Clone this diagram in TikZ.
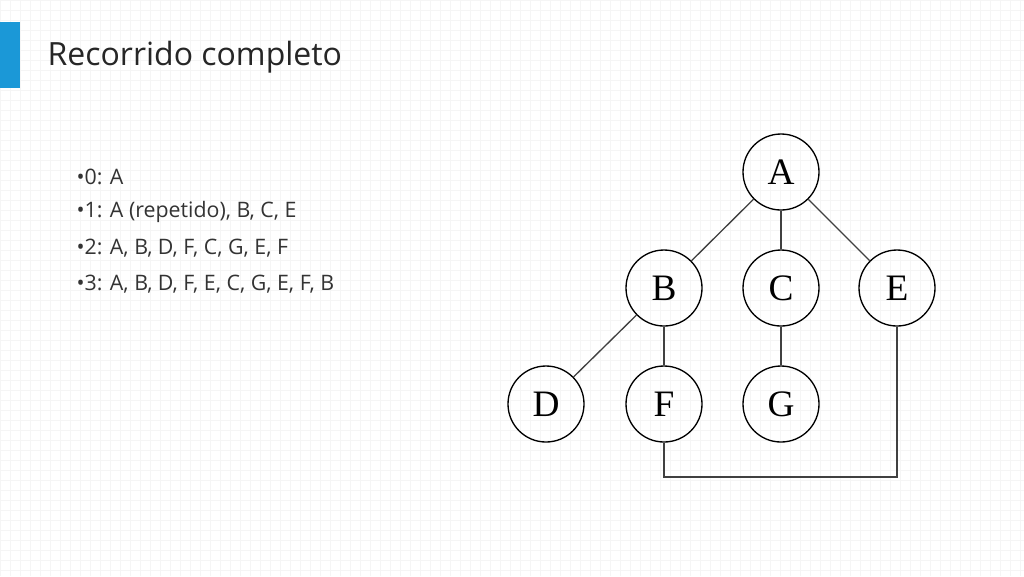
\documentclass[tikz,border=0pt]{standalone}
\usepackage{fontspec}
\setmainfont{Open Sans}
\newfontfamily\nodefont{Liberation Serif}
\definecolor{barblue}{RGB}{27,152,215}
\tikzset{
  treeV/.style={circle, draw, line width=1pt, minimum size=57pt, inner sep=0pt, font=\nodefont\fontsize{28}{28}\selectfont},
  edge/.style={line width=1pt, draw=black!75},
  bullet/.style={anchor=west, font=\fontsize{16}{16}\selectfont, text=black!80}
}
\begin{document}
\begin{tikzpicture}[x=0.75pt, y=-0.75pt]
  \useasboundingbox (0,0) rectangle (1024,576);
  \fill[white] (0,0) rectangle (1024,576);
  \draw[black!4, step=7.5pt] (0,0) grid (1024,576);
  \fill[barblue] (0,22) rectangle (20,88);
  \node[anchor=west, font=\fontsize{24}{24}\selectfont\addfontfeature{FakeBold=0}, text=black!85] (title) at (43,57) {Recorrido completo};
  \node[bullet] (l0) at (72,177) {•0: A};
  \node[bullet] (l1) at (72,212) {•1: A (repetido), B, C, E};
  \node[bullet] (l2) at (72,248) {•2: A, B, D, F, C, G, E, F};
  \node[bullet] (l3) at (72,284) {•3: A, B, D, F, E, C, G, E, F, B};
  % tree
  \node(A) [treeV] at (781,172) {A};
  \node(B) [treeV] at (664,288) {B};
  \node(C) [treeV] at (781,288) {C};
  \node(E) [treeV] at (897,288) {E};
  \node(D) [treeV] at (546,404) {D};
  \node(F) [treeV] at (664,404) {F};
  \node(G) [treeV] at (781,404) {G};
  \coordinate (corner) at (897,477);
  \draw[edge] (A) -- (B);
  \draw[edge] (A) -- (C);
  \draw[edge] (A) -- (E);
  \draw[edge] (B) -- (D);
  \draw[edge] (B) -- (F);
  \draw[edge] (C) -- (G);
  \draw[edge] (E) -- (corner) -| (F);
\end{tikzpicture}
\end{document}
